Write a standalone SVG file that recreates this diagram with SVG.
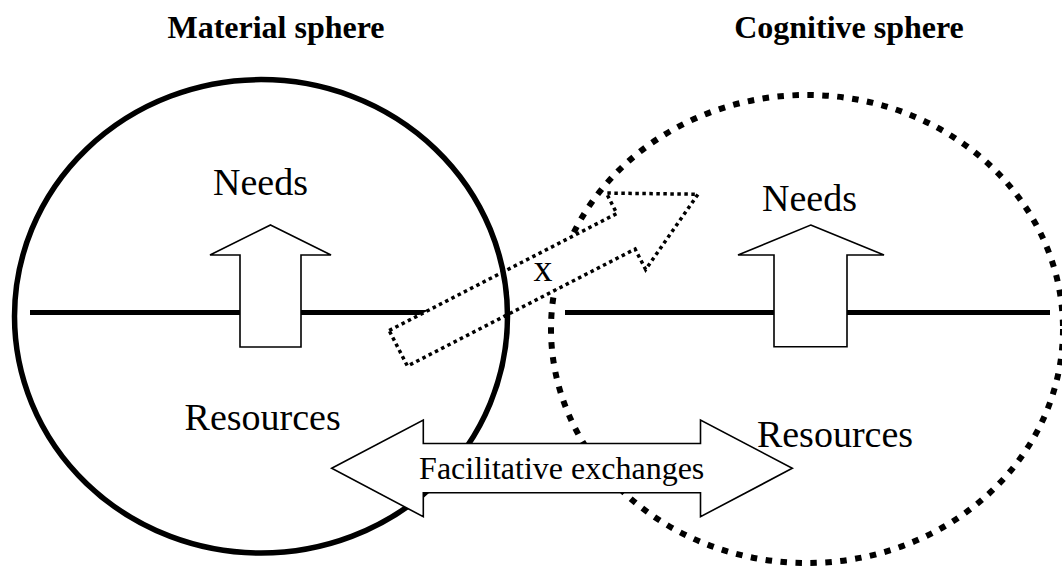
<svg xmlns="http://www.w3.org/2000/svg" width="1062" height="566" viewBox="0 0 1062 566">
  <style>
    .title { font-family: "Liberation Serif", "Times New Roman", serif; font-weight: bold; font-size: 32px; fill: #000; text-anchor: middle; }
    .lbl { font-family: "Liberation Serif", "Times New Roman", serif; font-size: 38px; fill: #000; text-anchor: middle; }
    .small { font-family: "Liberation Serif", "Times New Roman", serif; font-size: 32px; fill: #000; text-anchor: middle; }
    .divider { stroke: #000; stroke-width: 5; fill: none; }
    .block { fill: #fff; stroke: #000; stroke-width: 1.6; stroke-linejoin: miter; }
    .dotarrow { fill: #fff; stroke: #000; stroke-width: 3.5; stroke-dasharray: 3.5 3.5; }
  </style>
  <rect width="1062" height="566" fill="#fff"/>

  <g id="titles">
    <text class="title" x="276" y="38">Material sphere</text>
    <text class="title" x="849" y="38">Cognitive sphere</text>
  </g>

  <g id="dividers">
    <line class="divider" x1="30" y1="312.5" x2="440" y2="312.5"/>
    <line class="divider" x1="565" y1="312.5" x2="1050" y2="312.5"/>
  </g>

  <g id="material-needs-arrow">
    <polygon class="block" points="270.5,225 331,255 301,255 301,347 240,347 240,255 210,255"/>
  </g>
  <g id="cognitive-needs-arrow">
    <polygon class="block" points="810.7,225 884,255 847,255 847,346.7 774,346.7 774,255 738,255"/>
  </g>

  <g id="cognitive-sphere">
    <ellipse cx="807" cy="329" rx="256" ry="234" fill="none" stroke="#000" stroke-width="6" stroke-dasharray="6.5 8.5"/>
  </g>

  <g id="connectors">
    <g id="blocked-arrow" transform="translate(398.3,348.3) rotate(-27.2)">
      <path class="dotarrow" d="M0,-20 L256,-20 L256,-43 L337,0 L256,43 L256,20 L0,20 Z"/>
    </g>
  </g>

  <g id="material-sphere">
    <ellipse cx="261" cy="316.3" rx="246.5" ry="236.7" fill="none" stroke="#000" stroke-width="5.5"/>
  </g>

  <g id="facilitative-exchanges">
    <polygon class="block" points="331.7,468.3 423.3,420 423.3,443.5 700.5,443.5 700.5,420 792.3,468.3 700.5,516.7 700.5,492.7 423.3,492.7 423.3,516.7"/>
    <text class="small" x="561.7" y="479">Facilitative exchanges</text>
  </g>

  <g id="labels">
    <text class="lbl" x="260.5" y="195">Needs</text>
    <text class="lbl" x="809.5" y="211">Needs</text>
    <text class="lbl" x="262.7" y="430">Resources</text>
    <text class="lbl" x="835" y="446.7">Resources</text>
    <text class="lbl" x="543" y="281">x</text>
  </g>
</svg>
